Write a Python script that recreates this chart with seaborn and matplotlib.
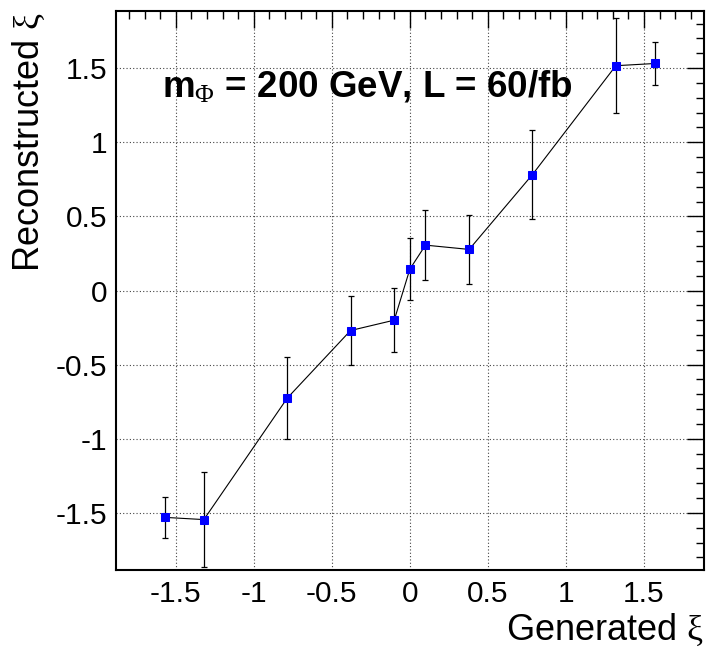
import numpy as np
import pandas as pd
import seaborn as sns
import matplotlib
matplotlib.use("Agg")
import matplotlib.pyplot as plt
from matplotlib.ticker import MultipleLocator

# ---- data ----
gen_xi = [-1.571, -1.32, -0.785, -0.38, -0.10, 0.0, 0.10, 0.38, 0.785, 1.32, 1.571]
rec_xi = [-1.53, -1.545, -0.725, -0.27, -0.20, 0.144, 0.306, 0.277, 0.781, 1.516, 1.531]
rec_err = [0.14, 0.32, 0.275, 0.23, 0.217, 0.21, 0.237, 0.234, 0.30, 0.32, 0.144]
tick_vals = [-1.5, -1, -0.5, 0, 0.5, 1, 1.5]
tick_labels = ["-1.5", "-1", "-0.5", "0", "0.5", "1", "1.5"]
annotation = r"m$_{\Phi}$ = 200 GeV, L = 60/fb"
x_label = r"Generated $\mathrm{\xi}$"
y_label = r"Reconstructed $\mathrm{\xi}$"

sns.set_style("white")
plt.rcParams["font.family"] = ["Liberation Sans", "DejaVu Sans"]
plt.rcParams["mathtext.fontset"] = "custom"
plt.rcParams["mathtext.rm"] = "Liberation Serif"
plt.rcParams["mathtext.it"] = "Liberation Serif:italic"
plt.rcParams["mathtext.bf"] = "Liberation Serif:bold"
for k in ["text.color", "axes.labelcolor", "xtick.color", "ytick.color"]:
    plt.rcParams[k] = "black"

W, H = 706, 648
fig = plt.figure(figsize=(W / 100, H / 100), dpi=100)
ax = fig.add_axes([115.7 / W, 1 - 570 / H, (704 - 115.7) / W, (570 - 11) / H])

ax.errorbar(gen_xi, rec_xi, yerr=rec_err, fmt="none", ecolor="black",
            elinewidth=0.9, capsize=2.3, capthick=0.9, zorder=2)
df = pd.DataFrame({"gen": gen_xi, "rec": rec_xi})
sns.lineplot(data=df, x="gen", y="rec", sort=False, estimator=None, ax=ax,
             color="black", lw=0.8, marker="s", markersize=6,
             markerfacecolor="blue", markeredgecolor="blue", zorder=3)

lim = 0.6 * np.pi
ax.set_xlim(-lim, lim)
ax.set_ylim(-lim, lim)
ax.set_xticks(tick_vals, tick_labels)
ax.set_yticks(tick_vals, tick_labels)
ax.xaxis.set_minor_locator(MultipleLocator(0.1))
ax.yaxis.set_minor_locator(MultipleLocator(0.1))
ax.tick_params(which="both", direction="in", top=True, right=True,
               color="black", width=1.0, labelsize=21.5, labelcolor="black")
ax.tick_params(which="major", length=12)
ax.tick_params(which="minor", length=6)
ax.tick_params(axis="x", pad=7)
ax.tick_params(axis="y", pad=6)
ax.set_xlabel("")
ax.set_ylabel("")

ax.grid(True, which="major", ls=(0, (1, 2)), color="#444444", lw=0.8)
ax.set_axisbelow(True)
for s in ax.spines.values():
    s.set_color("black")
    s.set_linewidth(1.5)

fig.text(162 / W, 1 - 96 / H, annotation, ha="left", va="baseline",
         fontsize=26.5, fontweight="bold", color="black")
fig.text(704 / W, 1 - 640 / H, x_label, ha="right", va="baseline",
         fontsize=26, color="black")
fig.text(29 / W, 1 - 12 / H, y_label, ha="center", va="top", rotation=90,
         fontsize=26, color="black")

fig.savefig("out.png", dpi=100)
